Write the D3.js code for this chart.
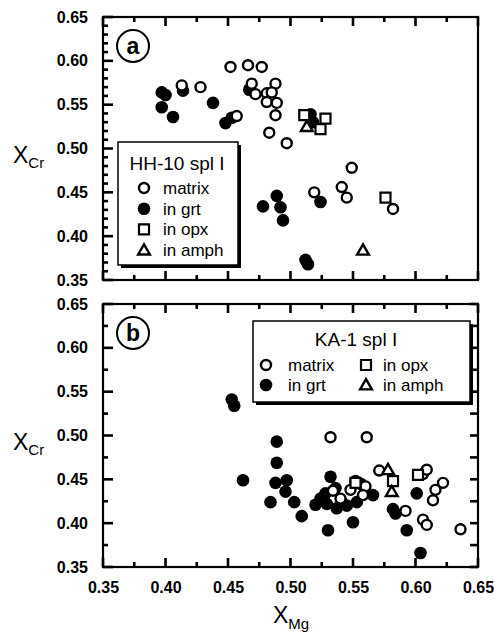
<!DOCTYPE html>
<html>
<head>
<meta charset="utf-8">
<script src="https://cdn.jsdelivr.net/npm/d3@7"></script>
<style>
  body { margin: 0; background: #fff; }
  svg { display: block; font-family: "Liberation Sans", Arial, Helvetica, sans-serif; }
</style>
</head>
<body>
<script>
// tick labels
var xTicks = [0.35, 0.40, 0.45, 0.50, 0.55, 0.60, 0.65];
var yTicks = [0.35, 0.40, 0.45, 0.50, 0.55, 0.60, 0.65];

// panel a : HH-10 spl I  [XMg, XCr]
var aMatrix = [[0.413,0.572],[0.428,0.570],[0.452,0.593],[0.466,0.595],[0.477,0.593],
  [0.469,0.574],[0.472,0.562],[0.481,0.563],[0.488,0.574],[0.485,0.564],[0.481,0.553],
  [0.489,0.552],[0.488,0.538],[0.483,0.518],[0.497,0.506],[0.457,0.537],[0.519,0.450],
  [0.541,0.456],[0.545,0.444],[0.549,0.478],[0.582,0.431]];
var aGrt = [[0.397,0.564],[0.400,0.561],[0.397,0.547],[0.406,0.536],[0.414,0.566],
  [0.438,0.552],[0.448,0.529],[0.453,0.535],[0.467,0.567],[0.516,0.539],[0.518,0.530],
  [0.478,0.434],[0.489,0.446],[0.492,0.433],[0.494,0.418],[0.524,0.439],[0.512,0.373],[0.514,0.368]];
var aOpx = [[0.511,0.538],[0.528,0.534],[0.524,0.522],[0.576,0.444]];
var aAmph = [[0.513,0.525],[0.558,0.384]];

// panel b : KA-1 spl I
var bMatrix = [[0.532,0.498],[0.561,0.498],[0.534,0.437],[0.540,0.428],[0.548,0.438],
  [0.560,0.442],[0.558,0.432],[0.571,0.460],[0.592,0.414],[0.606,0.456],[0.609,0.461],
  [0.606,0.404],[0.609,0.398],[0.614,0.426],[0.616,0.438],[0.622,0.446],[0.636,0.393]];
var bGrt = [[0.453,0.541],[0.455,0.534],[0.462,0.449],[0.489,0.493],[0.489,0.469],
  [0.488,0.446],[0.497,0.449],[0.496,0.436],[0.484,0.424],[0.503,0.424],[0.509,0.408],
  [0.530,0.392],[0.532,0.453],[0.520,0.421],[0.524,0.428],[0.528,0.434],[0.529,0.422],
  [0.537,0.417],[0.545,0.420],[0.541,0.424],[0.550,0.401],[0.552,0.448],[0.556,0.445],
  [0.553,0.424],[0.566,0.432],[0.536,0.440],[0.582,0.416],[0.584,0.411],[0.593,0.392],
  [0.601,0.434],[0.604,0.366]];
var bOpx = [[0.552,0.446],[0.582,0.448],[0.602,0.455]];
var bAmph = [[0.578,0.461],[0.581,0.436]];

var svg = d3.select("body").append("svg")
    .attr("width", 494)
    .attr("height", 632);

var x = d3.scaleLinear().domain([0.35, 0.65]).range([103, 478]);

var panels = [
  {top: 17, bottom: 280, letter: "a", matrix: aMatrix, grt: aGrt, opx: aOpx, amph: aAmph, minorLeft: 0.01, rightTicks: false},
  {top: 304, bottom: 567, letter: "b", matrix: bMatrix, grt: bGrt, opx: bOpx, amph: bAmph, minorLeft: 0.025, rightTicks: true}
];

var xMinor = [0.375, 0.425, 0.475, 0.525, 0.575, 0.625];

function drawMarker(g, type, cx, cy) {
  if (type == "matrix") {
    g.append("circle").attr("cx", cx).attr("cy", cy).attr("r", 5)
      .attr("fill", "#fff").attr("stroke", "#000").attr("stroke-width", 2.4);
  } else if (type == "grt") {
    g.append("circle").attr("cx", cx).attr("cy", cy).attr("r", 6.3).attr("fill", "#000");
  } else if (type == "opx") {
    g.append("path").attr("transform", "translate(" + cx + "," + cy + ")")
      .attr("d", d3.symbol().type(d3.symbolSquare).size(100)())
      .attr("fill", "#fff").attr("stroke", "#000").attr("stroke-width", 2.2);
  } else {
    g.append("path").attr("transform", "translate(" + cx + "," + (cy + 1) + ")")
      .attr("d", d3.symbol().type(d3.symbolTriangle).size(60)())
      .attr("fill", "#fff").attr("stroke", "#000").attr("stroke-width", 2.4);
  }
}

panels.forEach(function(p) {
  var y = d3.scaleLinear().domain([0.35, 0.65]).range([p.bottom, p.top]);
  var g = svg.append("g");

  // frame
  g.append("rect")
    .attr("x", x(0.35)).attr("y", p.top)
    .attr("width", x(0.65) - x(0.35)).attr("height", p.bottom - p.top)
    .attr("fill", "none").attr("stroke", "#000").attr("stroke-width", 2.2);

  // inward tick marks
  function hTicks(vals, y0, len) {
    g.append("g").selectAll("rect").data(vals).enter().append("rect")
      .attr("x", function(d) { return x(d) - 1.3; })
      .attr("y", len < 0 ? y0 + len : y0)
      .attr("width", 2.6)
      .attr("height", Math.abs(len))
      .attr("fill", "#000");
  }
  function vTicks(vals, x0, len) {
    g.append("g").selectAll("rect").data(vals).enter().append("rect")
      .attr("y", function(d) { return y(d) - 1.3; })
      .attr("x", len < 0 ? x0 + len : x0)
      .attr("height", 2.6)
      .attr("width", Math.abs(len))
      .attr("fill", "#000");
  }

  hTicks(xTicks, p.bottom, -9);
  hTicks(xMinor, p.bottom, -5);
  hTicks(xTicks, p.top, 9);
  hTicks(xMinor, p.top, 5);

  var leftMinor = d3.range(0.35, 0.6501, p.minorLeft).filter(function(v) {
    return Math.abs(Math.round(v * 20) - v * 20) > 0.01;
  });
  vTicks(yTicks, x(0.35), 10);
  vTicks(leftMinor, x(0.35), 5);
  if (p.rightTicks) {
    vTicks(yTicks, x(0.65), -8);
    vTicks(xMinor, x(0.65), -8);
  }

  // y tick labels
  var yl = g.append("g").attr("transform", "translate(" + x(0.35) + ",0)")
    .call(d3.axisLeft(y).tickValues(yTicks).tickSize(0).tickPadding(15).tickFormat(d3.format(".2f")));
  yl.select(".domain").remove();
  yl.selectAll("text").attr("font-size", 16).attr("font-weight", "bold")
    .attr("font-family", "Liberation Sans, Arial, sans-serif").attr("fill", "#000");

  // y title
  var yt = g.append("text").attr("x", 13).attr("y", y(0.50) + 14)
    .attr("font-size", 23).attr("fill", "#000").text("X");
  yt.append("tspan").attr("font-size", 15).attr("dy", 5).text("Cr");

  // panel letter
  g.append("circle").attr("cx", 133).attr("cy", p.top + 29).attr("r", 16)
    .attr("fill", "#fff").attr("stroke", "#000").attr("stroke-width", 2);
  g.append("text").attr("x", 133).attr("y", p.top + 37)
    .attr("text-anchor", "middle").attr("font-size", 23).attr("font-weight", "bold")
    .text(p.letter);

  // points
  var pts = g.append("g");
  p.grt.forEach(function(d) { drawMarker(pts, "grt", x(d[0]), y(d[1])); });
  p.matrix.forEach(function(d) { drawMarker(pts, "matrix", x(d[0]), y(d[1])); });
  p.opx.forEach(function(d) { drawMarker(pts, "opx", x(d[0]), y(d[1])); });
  p.amph.forEach(function(d) { drawMarker(pts, "amph", x(d[0]), y(d[1])); });
});

// x tick labels (bottom panel)
var xl = svg.append("g").attr("transform", "translate(0,567)")
  .call(d3.axisBottom(x).tickValues(xTicks).tickSize(0).tickPadding(15).tickFormat(d3.format(".2f")));
xl.select(".domain").remove();
xl.selectAll("text").attr("font-size", 16).attr("font-weight", "bold")
  .attr("font-family", "Liberation Sans, Arial, sans-serif").attr("fill", "#000");

var xt = svg.append("text").attr("x", 273).attr("y", 623)
  .attr("font-size", 23).attr("fill", "#000").text("X");
xt.append("tspan").attr("font-size", 15).attr("dy", 6).text("Mg");

// legend a
var la = svg.append("g");
la.append("rect").attr("x", 121).attr("y", 145).attr("width", 120).attr("height", 123).attr("fill", "#000");
la.append("rect").attr("x", 118).attr("y", 142).attr("width", 120).attr("height", 123)
  .attr("fill", "#fff").attr("stroke", "#000").attr("stroke-width", 1.5);
la.append("text").attr("x", 177).attr("y", 170).attr("text-anchor", "middle")
  .attr("font-size", 19).text("HH-10 spl I");
[["matrix", "matrix"], ["grt", "in grt"], ["opx", "in opx"], ["amph", "in amph"]].forEach(function(e, i) {
  var cy = 188 + i * 20.7;
  drawMarker(la, e[0], 144, cy);
  la.append("text").attr("x", 163).attr("y", cy + 6).attr("font-size", 17).text(e[1]);
});

// legend b
var lb = svg.append("g");
lb.append("rect").attr("x", 256).attr("y", 324).attr("width", 217).attr("height", 81).attr("fill", "#000");
lb.append("rect").attr("x", 253).attr("y", 321).attr("width", 217).attr("height", 81)
  .attr("fill", "#fff").attr("stroke", "#000").attr("stroke-width", 1.5);
lb.append("text").attr("x", 356).attr("y", 346).attr("text-anchor", "middle")
  .attr("font-size", 19).text("KA-1 spl I");
[["matrix", "matrix", 266, 288, 365], ["grt", "in grt", 266, 288, 385],
 ["opx", "in opx", 366, 383, 365], ["amph", "in amph", 366, 383, 385]].forEach(function(e) {
  drawMarker(lb, e[0], e[2], e[4]);
  lb.append("text").attr("x", e[3]).attr("y", e[4] + 6).attr("font-size", 17).text(e[1]);
});
</script>
</body>
</html>
